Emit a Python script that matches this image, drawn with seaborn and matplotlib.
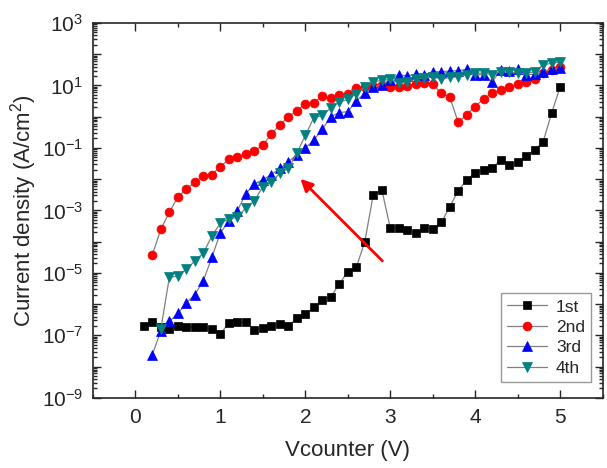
import numpy as np
import pandas as pd
import seaborn as sns
import matplotlib
matplotlib.use("Agg")
import matplotlib.pyplot as plt
from matplotlib.ticker import MultipleLocator, LogLocator, FuncFormatter, NullFormatter

# data (Vcounter in V, current density in A/cm2)
v_1st = [0.1, 0.2, 0.3, 0.4, 0.5, 0.6, 0.7, 0.8, 0.9, 1.0,
         1.1, 1.2, 1.3, 1.4, 1.5, 1.6, 1.7, 1.8, 1.9, 2.0,
         2.1, 2.2, 2.3, 2.4, 2.5, 2.6, 2.7, 2.8, 2.9, 3.0,
         3.1, 3.2, 3.3, 3.4, 3.5, 3.6, 3.7, 3.8, 3.9, 4.0,
         4.1, 4.2, 4.3, 4.4, 4.5, 4.6, 4.7, 4.8, 4.9, 5.0]
j_1st = [2.0e-7, 2.6e-7, 1.8e-7, 1.6e-7, 2.0e-7, 1.8e-7, 1.9e-7, 1.8e-7, 1.6e-7, 1.1e-7,
         2.5e-7, 2.6e-7, 2.6e-7, 1.5e-7, 1.7e-7, 2.0e-7, 2.3e-7, 2.0e-7, 3.5e-7, 4.8e-7,
         7.8e-7, 1.4e-6, 1.7e-6, 4.4e-6, 1.1e-5, 1.5e-5, 1.0e-4, 3.2e-3, 4.6e-3, 2.7e-4,
         2.8e-4, 2.4e-4, 1.9e-4, 2.7e-4, 2.5e-4, 4.1e-4, 1.3e-3, 4.3e-3, 9.5e-3, 1.6e-2,
         1.9e-2, 2.3e-2, 4.2e-2, 2.9e-2, 3.6e-2, 5.5e-2, 8.7e-2, 0.16, 1.35, 9.1]

v_2nd = v_1st[1:]
j_2nd = [3.8e-5, 2.5e-4, 8.7e-4, 2.7e-3, 4.8e-3, 7.8e-3, 1.3e-2, 1.4e-2, 2.5e-2,
         4.3e-2, 5.2e-2, 6.5e-2, 8.1e-2, 0.12, 0.28, 0.54, 1.0, 1.55, 2.6,
         2.8, 4.6, 3.9, 5.0, 5.2, 8.1, 8.9, 9.5, 10.0, 8.9,
         8.9, 9.5, 11.2, 12.0, 10.7, 5.6, 4.2, 0.65, 1.17, 2.1,
         3.8, 5.6, 7.1, 8.9, 11.0, 13.2, 16.2, 24.5, 31.6, 38.0]

v_3rd = v_1st[1:]
j_3rd = [2.4e-8, 1.4e-7, 2.8e-7, 5.0e-7, 1.1e-6, 2.0e-6, 5.6e-6, 3.1e-5, 1.9e-4,
         4.5e-4, 9.8e-4, 3.4e-3, 7.0e-3, 9.5e-3, 1.4e-2, 2.2e-2, 3.6e-2, 6.0e-2, 9.8e-2,
         0.18, 0.39, 1.0, 1.35, 1.45, 3.2, 5.6, 8.7, 10.5, 15.0,
         22.0, 20.0, 23.0, 22.0, 27.5, 27.5, 29.0, 29.5, 33.0, 22.0,
         22.0, 13.0, 32.0, 29.0, 33.0, 22.0, 23.0, 27.5, 33.0, 35.0]

v_4th = v_1st[2:]
j_4th = [1.6e-7, 7.2e-6, 7.9e-6, 1.3e-5, 2.4e-5, 4.3e-5, 1.5e-4, 3.9e-4,
         5.2e-4, 6.0e-4, 1.2e-3, 2.0e-3, 5.8e-3, 7.8e-3, 1.55e-2, 2.2e-2, 6.8e-2, 0.25,
         0.93, 1.1, 1.9, 2.9, 3.6, 5.4, 8.7, 13.0, 14.5, 15.5,
         11.7, 13.0, 16.0, 17.0, 19.0, 16.0, 18.0, 19.0, 22.0, 24.5,
         24.5, 22.0, 27.5, 27.5, 24.5, 24.5, 27.5, 46.0, 51.0, 58.0]

series = [("1st", v_1st, j_1st, "s", "#000000", 5.6),
          ("2nd", v_2nd, j_2nd, "o", "#ff0000", 6.4),
          ("3rd", v_3rd, j_3rd, "^", "#0000ff", 6.6),
          ("4th", v_4th, j_4th, "v", "#008080", 6.6)]

sns.set_style("ticks")
plt.rcParams["font.family"] = ["Liberation Sans", "DejaVu Sans"]
plt.rcParams["mathtext.fontset"] = "custom"
plt.rcParams["mathtext.rm"] = "Liberation Sans"
plt.rcParams["mathtext.it"] = "Liberation Sans"

fig = plt.figure(figsize=(6.07, 4.68), dpi=100)
ax = fig.add_axes([0.153, 0.150, 0.840, 0.801])

for name, v, j, mk, col, ms in series:
    df = pd.DataFrame({"V": v, "J": j})
    sns.lineplot(data=df, x="V", y="J", ax=ax, color="#808080", lw=0.9,
                 marker=mk, markersize=ms, markerfacecolor=col,
                 markeredgecolor=col, markeredgewidth=0.5, label=name)

ax.set_yscale("log")
ax.set_xlim(-0.5, 5.5)
ax.set_ylim(1e-9, 1e3)

ax.xaxis.set_major_locator(MultipleLocator(1))
ax.xaxis.set_minor_locator(MultipleLocator(0.5))
ax.yaxis.set_major_locator(LogLocator(base=10, numticks=20))
ax.yaxis.set_minor_locator(LogLocator(base=10, subs=np.arange(2, 10), numticks=20))
ax.yaxis.set_minor_formatter(NullFormatter())


def ylab(val, pos):
    e = int(round(np.log10(val)))
    if e % 2 == 0:
        return ""
    return r"$\mathregular{10^{%d}}$" % e


ax.yaxis.set_major_formatter(FuncFormatter(ylab))

ax.tick_params(which="both", direction="in", top=True, right=True, labelsize=15, width=1)
ax.tick_params(which="major", length=6, pad=7)
ax.tick_params(which="minor", length=3)
for s in ax.spines.values():
    s.set_linewidth(1.2)

ax.set_xlabel("Vcounter (V)", fontsize=16, labelpad=10)
ax.set_ylabel(r"Current density (A/cm$\mathregular{^2}$)", fontsize=16, labelpad=2)

ax.annotate("", xy=(1.92, 10 ** -1.93), xytext=(2.93, 10 ** -4.68),
            arrowprops=dict(arrowstyle="-|>", color="#ff0000", lw=2, mutation_scale=18))

leg = ax.legend(loc="lower right", fontsize=12.5, frameon=True, fancybox=False,
                handlelength=2.3, handletextpad=0.5, borderpad=0.35, labelspacing=0.3,
                borderaxespad=0.0, bbox_to_anchor=(0.977, 0.043))
leg.get_frame().set_edgecolor("#808080")
leg.get_frame().set_linewidth(1)

fig.savefig("out.png", dpi=100)
